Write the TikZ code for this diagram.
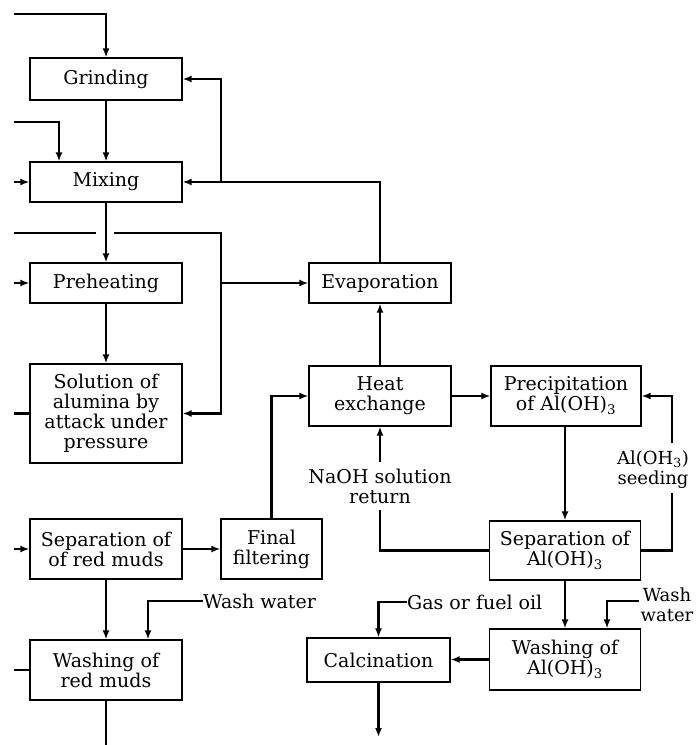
\documentclass[tikz,border=0pt]{standalone}
\usepackage{fontspec}
\setmainfont{DejaVu Serif}
\usetikzlibrary{arrows.meta}
\begin{document}
\begin{tikzpicture}[x=1pt,y=-1pt,
  box/.style={draw, line width=1.2pt, align=center, inner sep=0pt,
    font=\fontsize{19}{20}\selectfont},
  flow/.style={line width=2.5pt},
  arr/.style={flow, -{Latex[length=9pt,width=7pt]}},
  lbl/.style={align=center, inner sep=0pt, font=\fontsize{19}{20}\selectfont},
  tight/.style={lbl, font=\fontsize{18}{19.5}\selectfont}]
\useasboundingbox[fill=white] (0,0) rectangle (696,745);
% boxes
\node[box, minimum width=152pt, minimum height=42pt] (grind) at (106,79) {Grinding};
\node[box, minimum width=152pt, minimum height=40pt] (mix) at (106,182) {Mixing};
\node[box, minimum width=152pt, minimum height=40pt] (preh) at (106,283) {Preheating};
\node[box, minimum width=152pt, minimum height=99pt] (sol) at (106,413.5) {Solution of\\alumina by\\attack under\\pressure};
\node[box, minimum width=152pt, minimum height=60pt] (sepr) at (106,549) {Separation of\\of red muds};
\node[box, minimum width=152pt, minimum height=60pt] (washr) at (106,670) {Washing of\\red muds};
\node[box, minimum width=101pt, minimum height=60pt] (filt) at (271.5,549) {Final\\filtering};
\node[box, minimum width=142pt, minimum height=40pt] (evap) at (380,283) {Evaporation};
\node[box, minimum width=142pt, minimum height=60pt] (heat) at (380,396) {Heat\\exchange};
\node[box, minimum width=150pt, minimum height=60pt] (prec) at (566,396) {Precipitation\\of Al(OH)\textsubscript{3}};
\node[box, minimum width=151pt, minimum height=59pt] (sepa) at (565,550.5) {Separation of\\Al(OH)\textsubscript{3}};
\node[box, minimum width=151pt, minimum height=61pt] (washa) at (565,659.5) {Washing of\\Al(OH)\textsubscript{3}};
\node[box, minimum width=143pt, minimum height=44pt] (calc) at (378.5,660) {Calcination};
% labels
\node[lbl, anchor=west] (ww1) at (203,601) {Wash water};
\node[lbl, inner ysep=6pt] (naoh) at (380,486) {NaOH solution\\return};
\node[tight] (seed) at (653,469.5) {Al(OH\textsubscript{3})\\seeding};
\node[tight] (ww2) at (667,605) {Wash\\water};
\node[lbl, anchor=west] (gas) at (407,602) {Gas or fuel oil};
% coordinates
\coordinate (xA) at (14,0);
\coordinate (x59) at (59,0);
\coordinate (x148) at (148,0);
\coordinate (x221) at (221,0);
\coordinate (x607) at (607,0);
\coordinate (in1) at (14,14);
\coordinate (in2) at (14,122);
\coordinate (in4) at (14,233);
\coordinate (gapL) at (96,233);
\coordinate (gapR) at (114,233);
\coordinate (s1) at (672,493);
\coordinate (s2) at (672,443);
\coordinate (w2) at (639,601);
\coordinate (out2) at (106,745);
\coordinate (out3) at (378.5,737);
% connectors
\draw[arr] (in1) -| (grind.north);
\draw[arr] (grind.south) -- (mix.north);
\draw[arr] (in2) -| (mix.north -| x59);
\draw[arr] (mix.west -| xA) -- (mix.west);
\draw[arr] (evap.north) |- (mix.east);
\draw[arr] (mix.east -| x221) |- (grind.east);
\draw[arr] (mix.south) -- (preh.north);
\draw[flow] (in4) -- (gapL);
\draw[arr] (gapR) -| (sol.east -| x221) -- (sol.east);
\draw[arr] (evap.west -| x221) -- (evap.west);
\draw[arr] (preh.west -| xA) -- (preh.west);
\draw[arr] (preh.south) -- (sol.north);
\draw[flow] (sol.west) -- (sol.west -| xA);
\draw[arr] (sepr.west -| xA) -- (sepr.west);
\draw[arr] (sepr.east) -- (filt.west);
\draw[arr] (filt.north) |- (heat.west);
\draw[arr] (sepr.south) -- (washr.north);
\draw[arr] (ww1.west) -| (washr.north -| x148);
\draw[flow] (washr.west) -- (washr.west -| xA);
\draw[flow] (washr.south) -- (out2);
\draw[arr] (heat.north) -- (evap.south);
\draw[arr] (heat.east) -- (prec.west);
\draw[arr] (naoh.north) -- (naoh.north |- heat.south);
\draw[flow] (sepa.west) -| (naoh.south);
\draw[arr] (prec.south -| sepa.north) -- (sepa.north);
\draw[flow] (sepa.east) -| (s1);
\draw[arr] (s2) |- (prec.east);
\draw[arr] (sepa.south) -- (washa.north);
\draw[arr] (w2) -| (washa.north -| x607);
\draw[arr] (gas.west) -| (calc.north);
\draw[arr] (washa.west) -- (washa.west -| calc.east);
\draw[arr] (calc.south) -- (out3);
\end{tikzpicture}
\end{document}
